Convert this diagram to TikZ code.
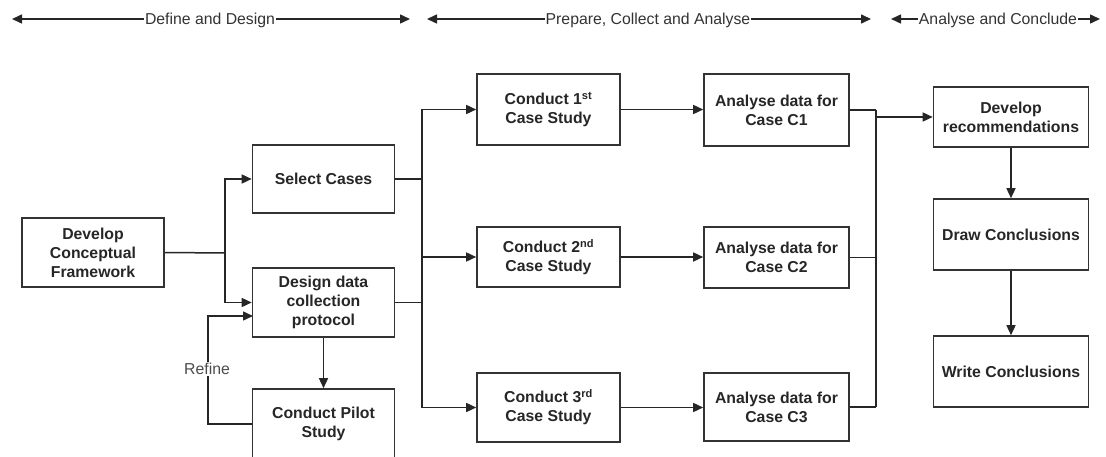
\documentclass[tikz,border=0pt]{standalone}
\usepackage{fontspec}
\setmainfont{Liberation Sans}
\usetikzlibrary{arrows.meta,calc}
\begin{document}
\begin{tikzpicture}[x=1pt,y=-1pt,
  box/.style={draw=black!80,line width=1.6pt,align=center,inner sep=2pt,
    font=\bfseries\fontsize{15.8}{19}\selectfont,text=black!85},
  conn/.style={line width=1.5pt,black!85},
  arr/.style={conn,-{Triangle[length=10pt,width=9pt]}},
  darr/.style={conn,{Triangle[length=10pt,width=9pt]}-{Triangle[length=10pt,width=9pt]}},
  phase/.style={fill=white,inner sep=1pt,anchor=base,font=\fontsize{15.8}{19}\selectfont,text=black!80},
  lbl/.style={fill=white,inner sep=1pt,font=\fontsize{15.8}{19}\selectfont,text=black!70}]
\useasboundingbox (0,0) rectangle (1106,457);
\clip (0,0) rectangle (1106,457);

% phase arrows
\coordinate (t1a) at (12,19); \coordinate (t1b) at (410,19);
\coordinate (t2a) at (427,19); \coordinate (t2b) at (871,19);
\coordinate (t3a) at (891,19); \coordinate (t3b) at (1100,19);
\draw[darr] (t1a) -- (t1b);
\draw[darr] (t2a) -- (t2b);
\draw[darr] (t3a) -- (t3b);
\node[phase] (p1) at (210,24.5) {Define and Design};
\node[phase] (p2) at (648,24.5) {Prepare, Collect and Analyse};
\node[phase] (p3) at (998,24.5) {Analyse and Conclude};

% boxes
\node[box,minimum width=142,minimum height=69] (dcf) at (93,252.5) {Develop\\Conceptual\\Framework};
\node[box,minimum width=142,minimum height=68] (sel) at (323.5,179) {Select Cases};
\node[box,minimum width=142,minimum height=69] (ddc) at (323.5,302.5) {Design data\\collection\\protocol};
\node[box,minimum width=142,minimum height=70] (pilot) at (323.5,424) {Conduct Pilot\\Study};

\node[box,minimum width=143,minimum height=71] (c1) at (548.5,109.5) {Conduct 1\textsuperscript{st}\\Case Study};
\node[box,minimum width=143,minimum height=60] (c2) at (548.5,257) {Conduct 2\textsuperscript{nd}\\Case Study};
\node[box,minimum width=143,minimum height=69] (c3) at (548.5,407.5) {Conduct 3\textsuperscript{rd}\\Case Study};

\node[box,minimum width=145,minimum height=72] (a1) at (776.5,110) {Analyse data for\\Case C1};
\node[box,minimum width=145,minimum height=61] (a2) at (776.5,257.5) {Analyse data for\\Case C2};
\node[box,minimum width=145,minimum height=68] (a3) at (776.5,407) {Analyse data for\\Case C3};

\node[box,minimum width=155,minimum height=60] (rec) at (1011,117) {Develop\\recommendations};
\node[box,minimum width=155,minimum height=71] (drw) at (1011,234.5) {Draw Conclusions};
\node[box,minimum width=155,minimum height=71] (wrt) at (1011,371.5) {Write Conclusions};

% left connectors
\coordinate (j1) at (225,253);
\draw[conn] (dcf.east) -- (j1);
\draw[arr] (j1) |- (sel.west);
\draw[arr] (j1) |- (ddc.west);
\draw[arr] (ddc.south) -- (pilot.north);
\coordinate (rc) at (208,316);
\coordinate (rin) at (253,316);
\draw[arr] (pilot.west) -| (rc) -- (rin);
\node[lbl] (refine) at (207,369) {Refine};

% middle connectors
\coordinate (m1) at (422,109.5);
\coordinate (m3) at (422,407.5);
\draw[conn] (sel.east) -- (sel.east -| m1);
\draw[conn] (ddc.east) -- (ddc.east -| m1);
\draw[conn] (m1) -- (m3);
\draw[arr] (m1) -- (c1.west);
\draw[arr] (c2.west -| m1) -- (c2.west);
\draw[arr] (m3) -- (c3.west);

\draw[arr] (c1.east) -- (c1.east -| a1.west);
\draw[arr] (c2.east) -- (c2.east -| a2.west);
\draw[arr] (c3.east) -- (c3.east -| a3.west);

% right connectors
\coordinate (r1) at (876,110);
\coordinate (r3) at (876,407);
\coordinate (rj) at (876,117);
\draw[conn] (a1.east) -- (r1);
\draw[conn] (a2.east) -- (a2.east -| r1);
\draw[conn] (a3.east) -- (r3);
\draw[conn] (r1) -- (r3);
\draw[arr] (rj) -- (rec.west);
\draw[arr] (rec.south) -- (drw.north);
\draw[arr] (drw.south) -- (wrt.north);
\end{tikzpicture}
\end{document}
